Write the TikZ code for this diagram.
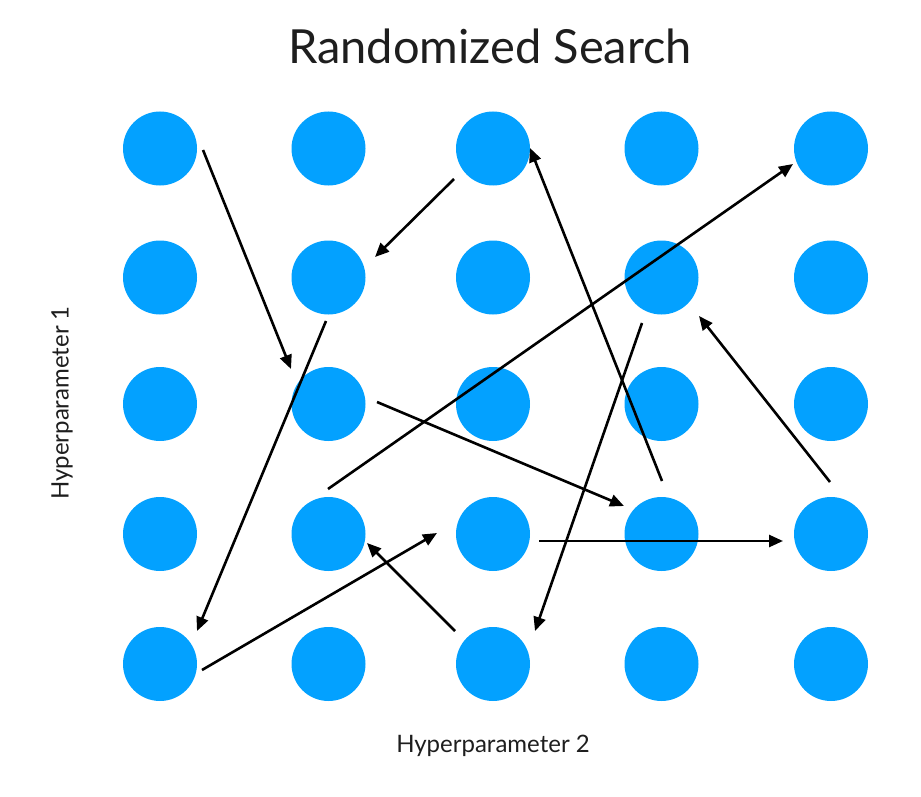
\documentclass[tikz,border=0pt]{standalone}
\usepackage{fontspec}
\setmainfont{Lato}
\usetikzlibrary{arrows.meta}
\definecolor{dotblue}{RGB}{3,161,255}
\definecolor{txt}{RGB}{30,30,30}
\begin{document}
\begin{tikzpicture}[x=1pt,y=-1pt,
  dot/.style={circle,fill=dotblue,minimum size=74pt,inner sep=0pt},
  arr/.style={line width=2.6pt,-{Triangle[length=14pt,width=12pt]}},
  lab/.style={text=txt,inner sep=0pt}]
\useasboundingbox (0,0) rectangle (921,797);
\foreach \c/\x in {1/160,2/328.5,3/493,4/661.5,5/831}
  \foreach \r/\y in {1/148.5,2/277.5,3/404,4/534,5/664}
    \node[dot] (d\r\c) at (\x,\y) {};
\node[lab,font=\fontsize{47}{56}\selectfont] (title) at (490,46) {Randomized Search};
\node[lab,font=\fontsize{24}{29}\selectfont] (xlab) at (493,746) {Hyperparameter 2};
\node[lab,font=\fontsize{24}{29}\selectfont,rotate=90] (ylab) at (62,403) {Hyperparameter 1};
% arrow endpoints
\coordinate (a1s) at (203,150);  \coordinate (a1e) at (291,369);
\coordinate (a2s) at (454,179);  \coordinate (a2e) at (375,257);
\coordinate (a3s) at (326,321);  \coordinate (a3e) at (197,631);
\coordinate (a4s) at (202,670);  \coordinate (a4e) at (437,533);
\coordinate (a5s) at (455,631);  \coordinate (a5e) at (367,543);
\coordinate (a6s) at (328,489);  \coordinate (a6e) at (793,164);
\coordinate (a7s) at (662,481);  \coordinate (a7e) at (530,148);
\coordinate (a8s) at (642,323);  \coordinate (a8e) at (535,631);
\coordinate (a9s) at (377,402);  \coordinate (a9e) at (624,506);
\coordinate (a10s) at (539,541); \coordinate (a10e) at (783,541);
\coordinate (a11s) at (830,482); \coordinate (a11e) at (699,316);
\foreach \i in {1,...,11}
  \draw[arr] (a\i s) -- (a\i e);
\end{tikzpicture}
\end{document}
